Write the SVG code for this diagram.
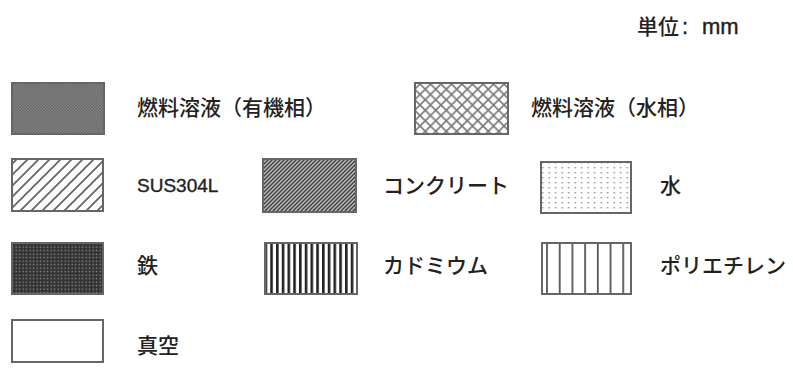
<svg xmlns="http://www.w3.org/2000/svg" width="793" height="370" viewBox="0 0 793 370">
<style>
.t{font-family:"Noto Sans CJK JP","Liberation Sans",sans-serif;font-size:21px;font-weight:500;fill:#222}
.l{font-family:"Liberation Sans","Noto Sans CJK JP",sans-serif;font-size:19px;font-weight:normal;fill:#222;stroke:#222;stroke-width:0.4}
.s{stroke:#666;stroke-width:2}
</style>
<defs>
<pattern id="org" width="3" height="3" patternUnits="userSpaceOnUse"><rect width="3" height="3" fill="#858585"/><rect width="1.5" height="1.5" fill="#666"/><rect x="1.5" y="1.5" width="1.5" height="1.5" fill="#666"/></pattern>
<pattern id="aq" width="10.5" height="10.5" patternUnits="userSpaceOnUse"><rect width="10.5" height="10.5" fill="#fff"/><path d="M0 0L10.5 10.5M10.5 0L0 10.5M-1 9.5L1 11.5M9.5 -1L11.5 1" stroke="#777" stroke-width="1.6"/></pattern>
<pattern id="sus" width="11" height="11" patternUnits="userSpaceOnUse"><rect width="11" height="11" fill="#fff"/><path d="M0 11L11 0M-2 2L2 -2M9 13L13 9" stroke="#666" stroke-width="1.8"/></pattern>
<pattern id="con" width="4" height="4" patternUnits="userSpaceOnUse"><rect width="4" height="4" fill="#bbb"/><path d="M0 4L4 0M-1 1L1 -1M3 5L5 3" stroke="#444" stroke-width="1.5"/></pattern>
<pattern id="wat" width="6.5" height="5" patternUnits="userSpaceOnUse"><rect width="6.5" height="5" fill="#fff"/><rect x="2.5" y="2" width="1.4" height="1.4" fill="#888"/></pattern>
<pattern id="fe" width="3.5" height="3.5" patternUnits="userSpaceOnUse"><rect width="3.5" height="3.5" fill="#333"/><rect x="1.5" y="1.5" width="1.3" height="1.3" fill="#999"/></pattern>
<pattern id="cd" width="5.75" height="10" patternUnits="userSpaceOnUse"><rect width="5.75" height="10" fill="#fff"/><rect x="0" y="0" width="2.6" height="10" fill="#222"/></pattern>
<pattern id="pe" width="12.7" height="10" patternUnits="userSpaceOnUse"><rect width="12.7" height="10" fill="#fff"/><rect x="0" y="0" width="1.8" height="10" fill="#555"/></pattern>
</defs>
<text class="t" x="637" y="34">単位<tspan class="l" x="682" style="font-size:22px">:</tspan><tspan class="l" x="702" style="font-size:22px">mm</tspan></text>
<g id="n1"><rect class="s" x="12" y="83" width="92" height="51" fill="url(#org)"/><text class="t" x="137" y="115">燃料溶液（有機相）</text></g>
<g id="n2"><rect class="s" x="415" y="83" width="93" height="51" fill="url(#aq)"/><text class="t" x="531" y="115">燃料溶液（水相）</text></g>
<g id="n3"><rect class="s" x="12" y="159" width="91" height="52" fill="url(#sus)"/><text class="l" x="137" y="192">SUS304L</text></g>
<g id="n4"><rect class="s" x="263" y="159" width="93" height="53" fill="url(#con)"/><text class="t" x="383" y="193">コンクリート</text></g>
<g id="n5"><rect class="s" x="541" y="162" width="90" height="51" fill="url(#wat)"/><text class="t" x="660" y="193">水</text></g>
<g id="n6"><rect class="s" x="12" y="243" width="91" height="51" fill="url(#fe)"/><text class="t" x="137" y="273">鉄</text></g>
<g id="n7"><rect class="s" x="265" y="243" width="92" height="51" fill="url(#cd)"/><text class="t" x="383" y="273">カドミウム</text></g>
<g id="n8"><rect class="s" x="542" y="243" width="89" height="51" fill="url(#pe)"/><text class="t" x="660" y="273">ポリエチレン</text></g>
<g id="n9"><rect class="s" x="12" y="320" width="91" height="42" fill="#fff"/><text class="t" x="137" y="353">真空</text></g>
<g id="connectors"/>
</svg>
